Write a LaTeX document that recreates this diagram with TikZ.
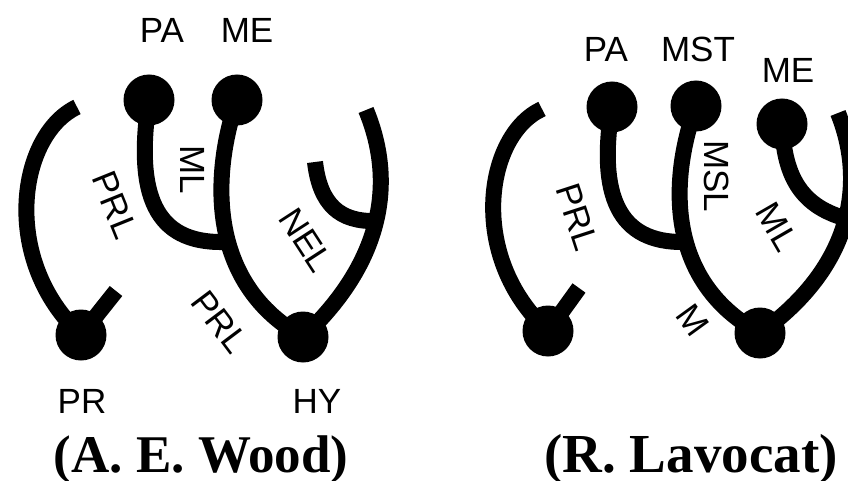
\documentclass[tikz,border=0pt]{standalone}
\usepackage{fontspec}
\setmainfont{Liberation Sans}
\newfontfamily\titlefont{Liberation Serif}
\begin{document}
\begin{tikzpicture}[x=1pt,y=-1pt,
  dot/.style={circle,fill=black,inner sep=0pt,minimum size=51pt},
  lk/.style={line width=16pt,black},
  lab/.style={font=\fontsize{35}{40}\selectfont,inner sep=0pt},
  toplab/.style={lab,anchor=base},
  ttl/.style={font=\titlefont\bfseries\fontsize{53}{60}\selectfont,inner sep=0pt,anchor=base}]
\clip (0,0) rectangle (848,481);
\fill[white] (0,0) rectangle (848,481);
% ---------- left panel (A. E. Wood) ----------
\node[dot] (PA1) at (149,100) {};
\node[dot] (ME1) at (237,100) {};
\node[dot] (PR1) at (81,335) {};
\node[dot] (HY1) at (303,337) {};
\coordinate (A1) at (77,107);
\coordinate (S1) at (116,291);
\coordinate (J1) at (223,242);
\coordinate (O1) at (366,110);
\coordinate (N1) at (315,162);
\coordinate (K1) at (376,221);
\draw[lk] (A1) .. controls (18,135) and (0,260) .. (PR1.center);
\draw[lk] (PR1.center) -- (S1);
\draw[lk] (PA1.center) .. controls (135,195) and (155,243) .. (J1);
\draw[lk] (ME1.center) .. controls (210,180) and (210,285) .. (HY1.center);
\draw[lk] (O1) .. controls (395,180) and (385,260) .. (HY1.center);
\draw[lk] (N1) .. controls (320,205) and (340,222) .. (K1);
\node[toplab] (tPA1) at (162,43) {PA};
\node[toplab] (tME1) at (247,43) {ME};
\node[toplab] (tPR1) at (82,413) {PR};
\node[toplab] (tHY1) at (317,413) {HY};
\node[lab,rotate=-90] (tML1) at (193,170) {ML};
\node[lab,rotate=-68] (tPRLa) at (115,205) {PRL};
\node[lab,rotate=-57] (tNEL) at (306,240) {NEL};
\node[lab,rotate=-53] (tPRLb) at (220,322) {PRL};
\node[ttl] (tWood) at (201,472) {(A. E. Wood)};
% ---------- right panel (R. Lavocat) ----------
\node[dot] (PA2) at (612,107) {};
\node[dot] (MST2) at (696,106) {};
\node[dot] (ME2) at (782,124) {};
\node[dot] (BL2) at (548,331) {};
\node[dot] (BR2) at (760,333) {};
\coordinate (A2) at (542,109);
\coordinate (S2) at (579,288);
\coordinate (J2) at (684,242);
\coordinate (O2) at (838,113);
\coordinate (K2) at (844,218);
\draw[lk] (A2) .. controls (485,135) and (467,257) .. (BL2.center);
\draw[lk] (BL2.center) -- (S2);
\draw[lk] (PA2.center) .. controls (598,195) and (618,243) .. (J2);
\draw[lk] (MST2.center) .. controls (668,184) and (668,283) .. (BR2.center);
\draw[lk] (ME2.center) .. controls (784,175) and (800,205) .. (K2);
\draw[lk] (O2) .. controls (865,180) and (855,265) .. (BR2.center);
\node[toplab] (tPA2) at (606,62) {PA};
\node[toplab] (tMST2) at (698,62) {MST};
\node[toplab] (tME2) at (788,83) {ME};
\node[lab,rotate=-72] (tPRL2) at (577,217) {PRL};
\node[lab,rotate=-90] (tMSL2) at (717,176) {MSL};
\node[lab,rotate=-60] (tML2) at (777,227) {ML};
\node[lab,rotate=-54] (tM2) at (693,320) {M};
\node[ttl,font=\titlefont\bfseries\fontsize{55}{60}\selectfont] (tLav) at (691,472) {(R. Lavocat)};
\end{tikzpicture}
\end{document}
